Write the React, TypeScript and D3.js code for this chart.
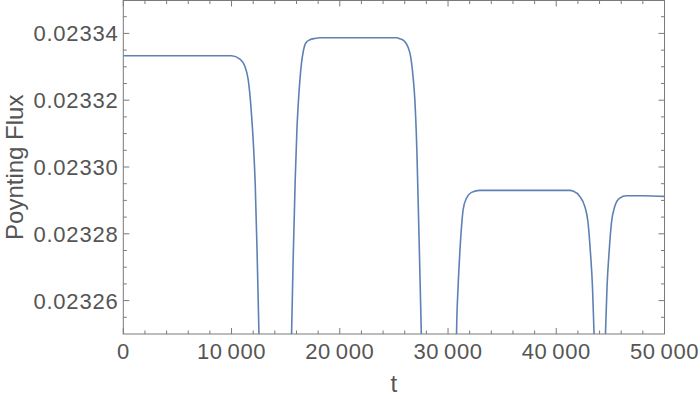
import React from "react";
import * as d3 from "d3";

const W = 700;
const H = 399;

// plot frame (Mathematica style, ticks on all four sides)
const frame = { left: 123.3, right: 664.5, top: 0.5, bottom: 334 };

// samples of the curve (t, Poynting flux)
const tValues = [
  0, 5000, 10010, 10776, 11238, 11543, 11700, 11866, 12023, 12189, 12355, 12530, 12600,
  15500, 15550, 15716, 15882, 16039, 16187, 16317, 16455, 16621, 16871, 17240, 17702, 18164,
  22000, 25245, 25550, 25920, 26290, 26566, 26797, 26935, 27120, 27305, 27535, 27600,
  30750, 30786, 30934, 31091, 31248, 31396, 31710, 32171, 32938, 37000, 41248, 41553,
  42171, 42633, 42938, 43160, 43344, 43492, 43600,
  44450, 44545, 44693, 44877, 45099, 45404, 45865, 46484, 48017, 50000,
];
const fluxValues = [
  0.0233333, 0.0233333, 0.0233333, 0.0233323, 0.0233301, 0.0233261, 0.0233216, 0.0233147,
  0.0233067, 0.0232947, 0.0232753, 0.0232505, 0.02324,
  0.02324, 0.0232505, 0.0232753, 0.0232962, 0.0233111, 0.0233201, 0.0233261, 0.0233309,
  0.0233345, 0.0233372, 0.0233381, 0.0233385, 0.0233387,
  0.0233387, 0.0233387, 0.0233384, 0.0233378, 0.023336, 0.0233327, 0.0233261, 0.0233201,
  0.0233052, 0.0232813, 0.02325, 0.02324,
  0.02324, 0.02325, 0.0232643, 0.0232744, 0.0232822, 0.0232872, 0.0232907, 0.0232924,
  0.023293, 0.023293, 0.023293, 0.0232928,
  0.0232912, 0.0232882, 0.0232833, 0.0232743, 0.0232643, 0.02325, 0.02324,
  0.02324, 0.02325, 0.0232643, 0.0232743, 0.0232833, 0.0232882, 0.0232907, 0.0232914,
  0.0232914, 0.0232912,
];

const xTicks = [0, 10000, 20000, 30000, 40000, 50000];
const xTickLabels = ["0", "10\u2009000", "20\u2009000", "30\u2009000", "40\u2009000", "50\u2009000"];
const yTicks = [0.02326, 0.02328, 0.0233, 0.02332, 0.02334];
const yTickLabels = ["0.02326", "0.02328", "0.02330", "0.02332", "0.02334"];

const LINE = "#5e81b5";
const FRAME = "#7a7a7a";
const TEXT = "#555555";
const FONT = "'Liberation Sans', Arial, sans-serif";

export default function App() {
  const x = d3.scaleLinear().domain([0, 50000]).range([frame.left, frame.right]);
  const y = d3.scaleLinear().domain([0.02325, 0.02335]).range([frame.bottom, 0]);

  const points = tValues.map((t, i) => [t, fluxValues[i]] as [number, number]);
  const line = d3
    .line<[number, number]>()
    .x((d) => x(d[0]))
    .y((d) => y(d[1]))
    .curve(d3.curveMonotoneX);

  // minor ticks
  const xMinor = d3.range(0, 50001, 2000).filter((v) => v % 10000 !== 0);
  const yMinor = d3.range(0, 21).map((i) => 0.02325 + i * 0.000005)
    .filter((v) => !yTicks.some((t) => Math.abs(t - v) < 1e-9) && v > 0.02325 && v < 0.02335);

  const major = 6;
  const minor = 3.5;

  return (
    <svg
      width={W}
      height={H}
      style={{ position: "absolute", left: 0, top: 0, background: "#fff" }}
    >
      <defs>
        <clipPath id="plot">
          <rect x={frame.left} y={0} width={frame.right - frame.left} height={frame.bottom} />
        </clipPath>
      </defs>

      <path
        d={line(points) ?? ""}
        fill="none"
        stroke={LINE}
        strokeWidth={1.6}
        clipPath="url(#plot)"
      />

      {/* frame */}
      <rect
        x={frame.left}
        y={frame.top}
        width={frame.right - frame.left}
        height={frame.bottom - frame.top}
        fill="none"
        stroke={FRAME}
        strokeWidth={1}
      />

      {/* x ticks, bottom and top */}
      {xTicks.map((t) => (
        <g key={"xt" + t} stroke={FRAME}>
          <line x1={x(t)} x2={x(t)} y1={frame.bottom} y2={frame.bottom - major} />
          <line x1={x(t)} x2={x(t)} y1={frame.top} y2={frame.top + major} />
        </g>
      ))}
      {xMinor.map((t) => (
        <g key={"xm" + t} stroke={FRAME}>
          <line x1={x(t)} x2={x(t)} y1={frame.bottom} y2={frame.bottom - minor} />
          <line x1={x(t)} x2={x(t)} y1={frame.top} y2={frame.top + minor} />
        </g>
      ))}

      {/* y ticks, left and right */}
      {yTicks.map((v) => (
        <g key={"yt" + v} stroke={FRAME}>
          <line x1={frame.left} x2={frame.left + major} y1={y(v)} y2={y(v)} />
          <line x1={frame.right} x2={frame.right - major} y1={y(v)} y2={y(v)} />
        </g>
      ))}
      {yMinor.map((v) => (
        <g key={"ym" + v} stroke={FRAME}>
          <line x1={frame.left} x2={frame.left + minor} y1={y(v)} y2={y(v)} />
          <line x1={frame.right} x2={frame.right - minor} y1={y(v)} y2={y(v)} />
        </g>
      ))}

      {/* tick labels */}
      {xTicks.map((t, i) => (
        <text
          key={"xl" + t}
          x={x(t)}
          y={359}
          textAnchor="middle"
          fill={TEXT}
          fontFamily={FONT}
          fontSize={22}
          letterSpacing={0.6}
        >
          {xTickLabels[i]}
        </text>
      ))}
      {yTicks.map((v, i) => (
        <text
          key={"yl" + v}
          x={118.5}
          y={y(v)}
          dy="0.36em"
          textAnchor="end"
          fill={TEXT}
          fontFamily={FONT}
          fontSize={22}
          letterSpacing={0.8}
        >
          {yTickLabels[i]}
        </text>
      ))}

      {/* axis labels */}
      <text
        x={(frame.left + frame.right) / 2}
        y={392}
        textAnchor="middle"
        fill={TEXT}
        fontFamily={FONT}
        fontSize={24}
      >
        t
      </text>
      <text
        transform={`translate(23,${(frame.top + frame.bottom) / 2}) rotate(-90)`}
        textAnchor="middle"
        fill={TEXT}
        fontFamily={FONT}
        fontSize={24}
      >
        Poynting Flux
      </text>
    </svg>
  );
}
